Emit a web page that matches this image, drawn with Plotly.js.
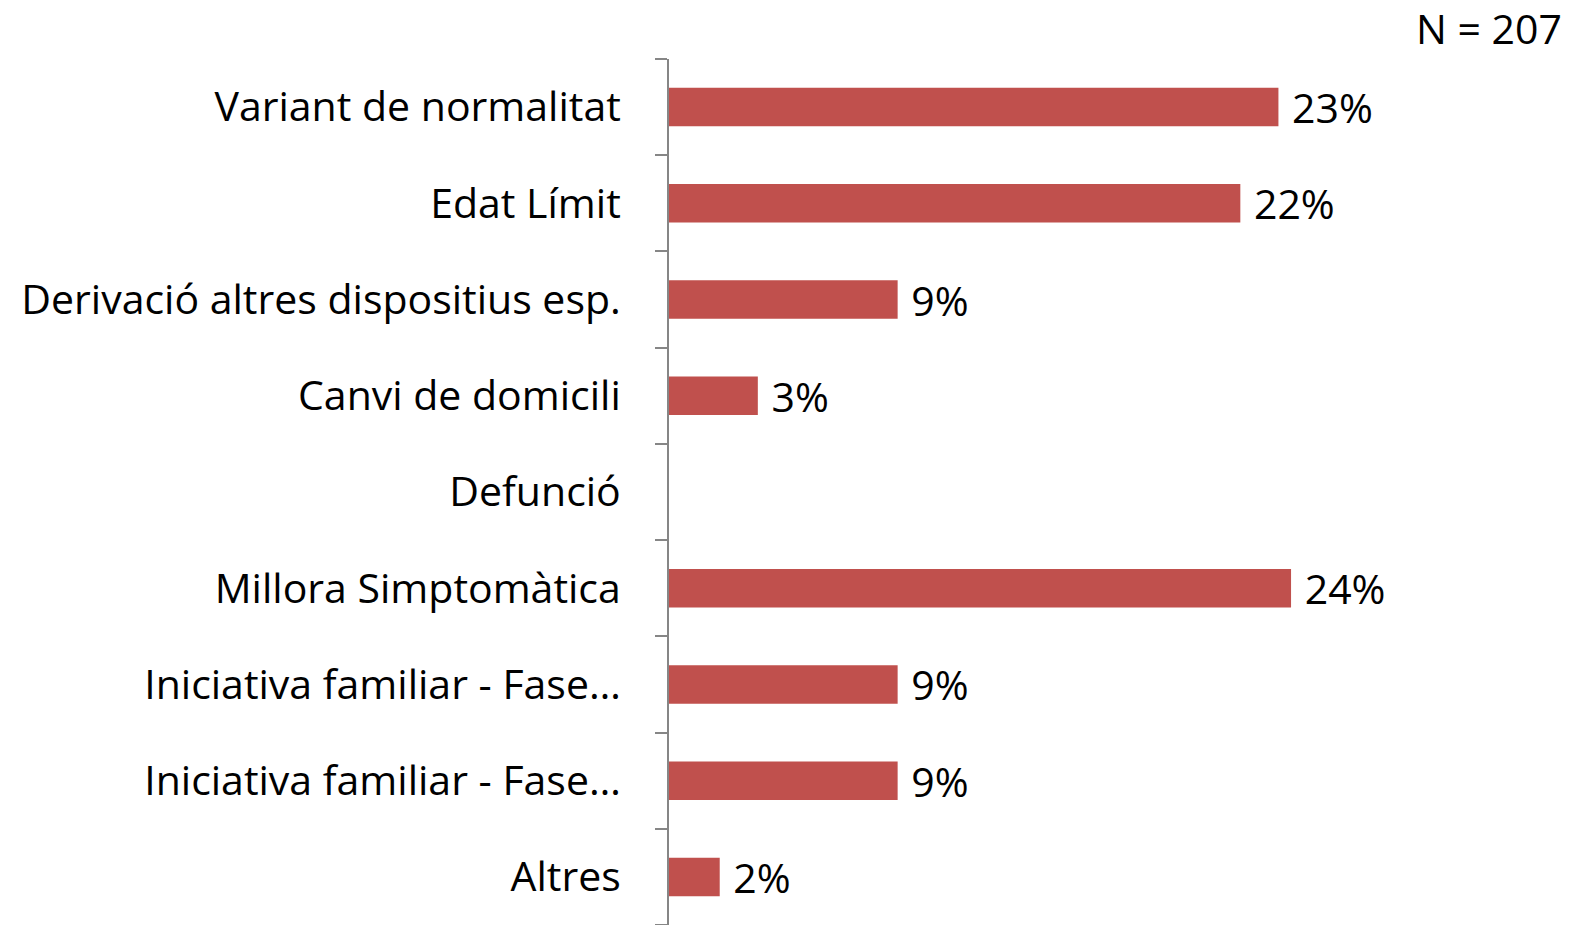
<!DOCTYPE html>
<html>
<head>
<meta charset="utf-8">
<script src="https://cdn.plot.ly/plotly-3.0.1.min.js"></script>
<style>
  body { margin: 0; background: #fff; }
  #chart { width: 1570px; height: 925px; }
</style>
</head>
<body>
<div id="chart"></div>
<script>
// categories, top to bottom
var categories = [
  "Variant de normalitat",
  "Edat Límit",
  "Derivació altres dispositius esp.",
  "Canvi de domicili",
  "Defunció",
  "Millora Simptomàtica",
  "Iniciativa familiar - Fase…",
  "Iniciativa familiar - Fase…",
  "Altres"
];
// share of the 207 cases, in %
var percents = [23.19, 21.74, 8.70, 3.38, 0, 23.67, 8.70, 8.70, 1.93];
var totalN = 207;

var positions = categories.map((c, i) => i);
var labels = percents.map(p => p > 0 ? "\u00A0" + Math.round(p) + "%" : "");

var fontFamily = "'Open Sans', sans-serif";

var trace = {
  type: "bar",
  orientation: "h",
  x: percents,
  y: positions,
  text: labels,
  textposition: "outside",
  constraintext: "none",
  cliponaxis: false,
  textfont: { family: fontFamily, size: 41, color: "#000" },
  marker: { color: "#C0504D" },
  hoverinfo: "skip"
};

var layout = {
  width: 1570,
  height: 925,
  margin: { l: 669, r: 244, t: 59, b: 0 },
  paper_bgcolor: "#fff",
  plot_bgcolor: "#fff",
  bargap: 0.6,
  showlegend: false,
  font: { family: fontFamily, size: 41, color: "#000" },
  xaxis: {
    range: [0, 25],
    visible: false,
    fixedrange: true
  },
  yaxis: {
    range: [8.5, -0.5],
    tickmode: "array",
    tickvals: positions,
    ticktext: categories,
    ticks: "",
    ticklabelstandoff: 38,
    showgrid: false,
    zeroline: false,
    showline: true,
    linecolor: "#868686",
    linewidth: 2,
    automargin: false,
    minor: {
      tickmode: "linear",
      tick0: 0.5,
      dtick: 1,
      ticks: "outside",
      ticklen: 12,
      tickwidth: 2,
      tickcolor: "#868686",
      showgrid: false
    }
  },
  annotations: [{
    xref: "paper", yref: "paper",
    x: (1564 - 669) / (1570 - 669 - 244), y: (925 - 28) / 866,
    xanchor: "right", yanchor: "middle",
    showarrow: false,
    text: "N = " + totalN,
    font: { size: 41, color: "#000" }
  }]
};

Plotly.newPlot("chart", [trace], layout, { staticPlot: true });
</script>
</body>
</html>
